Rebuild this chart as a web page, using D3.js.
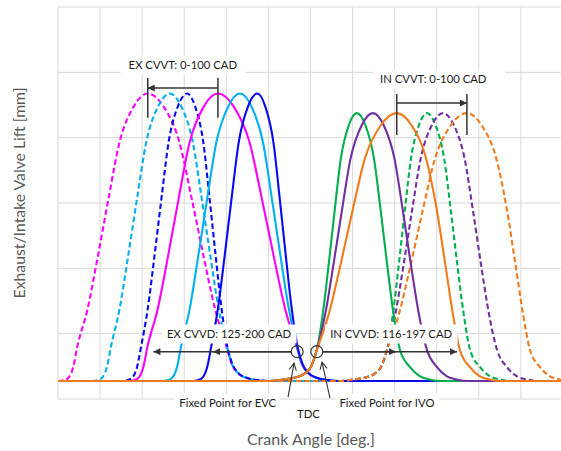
<!DOCTYPE html>
<html><head><meta charset="utf-8">
<script src="https://cdn.jsdelivr.net/npm/d3@7"></script>
<style>
body{margin:0;background:#fff;}
svg{display:block;font-family:Lato,"Open Sans",sans-serif;}
</style>
</head><body>
<svg id="chart" width="561" height="451"></svg>
<script>
// ---------- grid (crank angle in deg, lift in mm) ----------
const xGrid = [0,60,120,180,240,300,360,420,480,540,600,660,720];
const yGrid = [-0.55,1.45,3.45,5.45,7.45,9.45,11.45];

// ---------- exhaust curves ----------
const exLift = [0,0,0.03,0.13,0.45,1.0,2.2,3.87,5.63,7.3,8.4,8.8,8.4,7.3,5.63,3.87,2.2,1.0,0.5,0.25,0.09,0.03,0,0];
const exMagentaSolidCAD = [0,101,109,116,122,127,142.1,157.3,172.4,187.6,207.8,228,250.6,273.2,290.2,307.1,324,341,348,356,369,383,399,720];
const exCyanSolidCAD    = [0,149,157,164,170,175,187.7,200.3,213,225.7,242.6,259.5,275.9,292.3,304.6,316.9,329.2,341.5,348.5,356.5,369.5,383.5,399.5,720];
const exBlueSolidCAD    = [0,192,200,207,213,218,227.9,237.8,247.7,257.6,270.8,284,295.6,307.2,315.9,324.6,333.3,342,349,357,370,384,400,720];
const exMagentaDashCAD  = [0,1,9,16,22,27,42.1,57.3,72.4,87.6,107.8,128,150.6,173.2,190.2,207.1,224,241,248,256,269,283,299,720];
const exCyanDashCAD     = [0,49,57,64,70,75,87.7,100.3,113,125.7,142.6,159.5,175.9,192.3,204.6,216.9,229.2,241.5,248.5,256.5,269.5,283.5,299.5,720];
const exBlueDashCAD     = [0,92,100,107,113,118,127.9,137.8,147.7,157.6,170.8,184,195.6,207.2,215.9,224.6,233.3,242,249,257,270,284,300,720];

// ---------- intake curves ----------
const inLift = [0,0,0.04,0.1,0.22,0.45,0.95,2.05,3.6,5.25,6.8,7.83,8.2,7.83,6.8,5.25,3.6,2.05,0.95,0.43,0.15,0.05,0,0];
const inGreenSolidCAD  = [0,299,319,337,351,361,369,377.5,386.1,394.6,403.2,414.6,426,438.3,450.6,459.9,469.1,478.4,487.6,501.6,515.6,529.6,547.6,720];
const inPurpleSolidCAD = [0,299,319,337,351,361,369,381,393,405,417,433,449,464.4,479.8,491.4,502.9,514.5,526,540,554,568,586,720];
const inOrangeSolidCAD = [0,299,319,337,351,361,369,386.1,403.2,420.3,437.4,460.2,483,504,525,540,552,563,573,587,601,615,633,720];
const inGreenDashCAD   = [0,399,419,437,451,461,469,477.5,486.1,494.6,503.2,514.6,526,538.3,550.6,559.9,569.1,578.4,587.6,601.6,615.6,629.6,647.6,720];
const inPurpleDashCAD  = [0,399,419,437,451,461,469,481,493,505,517,533,549,564.4,579.8,591.4,602.9,614.5,626,640,654,668,686,720];
const inOrangeDashCAD  = [0,399,419,437,451,461,469,486.1,503.2,520.3,537.4,560.2,583,604,625,640,652,663,673,687,701,715,720];
const inOrangeDashLift = [0,0,0.04,0.1,0.22,0.45,0.95,2.05,3.6,5.25,6.8,7.83,8.2,7.83,6.8,5.25,3.6,2.05,0.95,0.43,0.15,0.05,0.02];

// ---------- annotation values ----------
const evcPoint = [341, 0.9];
const ivoPoint = [369, 0.9];
const exCvvtArrow = {from:228, to:128, y:8.97, tickTop:9.28, tickBottom:8.06};
const inCvvtArrow = {from:483, to:583, y:8.51, tickTop:8.79, tickBottom:7.53};
const exCvvdHeads = [221, 136];
const inCvvdHeads = [482, 569];
const labels = [
  {text:"EX CVVT: 0-100 CAD", x:178, y:9.68, padL:8, padR:8},
  {text:"IN CVVT: 0-100 CAD", x:535, y:9.25, padL:7, padR:18},
  {text:"EX CVVD: 125-200 CAD", x:244, y:1.44, padL:5, padR:5},
  {text:"IN CVVD: 116-197 CAD", x:475, y:1.44, padL:5, padR:5},
  {text:"Fixed Point for EVC", x:242, y:-0.67, padL:5, padR:3},
  {text:"Fixed Point for IVO", x:469, y:-0.67, padL:3, padR:5},
  {text:"TDC", x:357, y:-0.98, padL:3, padR:3}
];
const pointers = [
  {from:[328,-0.49], to:[336.5,0.55]},
  {from:[387.8,-0.52], to:[376.4,0.58]}
];

// ---------- scales ----------
const svg = d3.select("#chart");
const x = d3.scaleLinear().domain([0,720]).range([58,563]);
const y = d3.scaleLinear().domain([-0.55,11.45]).range([399,7]);

const defs = svg.append("defs");
defs.append("clipPath").attr("id","plotclip").append("rect")
  .attr("x",x(0)).attr("y",y(11.45)).attr("width",x(720)-x(0)).attr("height",y(-0.55)-y(11.45));
defs.append("marker").attr("id","head").attr("viewBox","0 0 10 10")
  .attr("refX",10).attr("refY",5).attr("markerWidth",8).attr("markerHeight",7)
  .attr("markerUnits","userSpaceOnUse").attr("orient","auto")
  .append("path").attr("d","M0,0L10,5L0,10z").attr("fill","#333");
defs.append("marker").attr("id","vhead").attr("viewBox","0 0 10 10")
  .attr("refX",9).attr("refY",5).attr("markerWidth",9).attr("markerHeight",9)
  .attr("markerUnits","userSpaceOnUse").attr("orient","auto")
  .append("path").attr("d","M1,1L9,5L1,9").attr("fill","none").attr("stroke","#333").attr("stroke-width",1.2);

// gridlines
const grid = svg.append("g").attr("stroke","#d9d9d9").attr("stroke-width",1);
grid.selectAll("line.v").data(xGrid).join("line")
  .attr("x1",d=>x(d)).attr("x2",d=>x(d)).attr("y1",y(11.45)).attr("y2",y(-0.55));
grid.selectAll("line.h").data(yGrid).join("line")
  .attr("x1",x(0)).attr("x2",x(720)).attr("y1",d=>y(d)).attr("y2",d=>y(d));

// curves
const series = [
  {a:exMagentaDashCAD, l:exLift, c:"#ff00ff", dash:true},
  {a:exCyanDashCAD,    l:exLift, c:"#00b0f0", dash:true},
  {a:exBlueDashCAD,    l:exLift, c:"#0a0aef", dash:true},
  {a:exMagentaSolidCAD,l:exLift, c:"#ff00ff", dash:false},
  {a:exCyanSolidCAD,   l:exLift, c:"#00b0f0", dash:false},
  {a:exBlueSolidCAD,   l:exLift, c:"#0a0aef", dash:false},
  {a:inGreenDashCAD,   l:inLift, c:"#00b050", dash:true},
  {a:inPurpleDashCAD,  l:inLift, c:"#7030a0", dash:true},
  {a:inOrangeDashCAD,  l:inOrangeDashLift, c:"#f07b1d", dash:true},
  {a:inGreenSolidCAD,  l:inLift, c:"#00b050", dash:false},
  {a:inPurpleSolidCAD, l:inLift, c:"#7030a0", dash:false},
  {a:inOrangeSolidCAD, l:inLift, c:"#f07b1d", dash:false}
];
const line = d3.line().x(d=>x(d[0])).y(d=>y(d[1])).curve(d3.curveMonotoneX);
const cg = svg.append("g").attr("clip-path","url(#plotclip)");
series.forEach(s=>{
  cg.append("path").attr("d", line(s.a.map((v,i)=>[v,s.l[i]])))
    .attr("fill","none").attr("stroke",s.c).attr("stroke-width",2.1)
    .attr("stroke-dasharray", s.dash ? "5.5,3" : null);
});

// label boxes + text
const lg = svg.append("g");
labels.forEach(L=>{
  const t = lg.append("text").attr("x",x(L.x)).attr("y",y(L.y))
    .attr("text-anchor","middle").attr("dominant-baseline","central")
    .attr("font-size",11.3).attr("fill","#1a1a1a").text(L.text);
  const b = t.node().getBBox();
  lg.insert("rect","text").attr("x",b.x-L.padL).attr("y",b.y-3)
    .attr("width",b.width+L.padL+L.padR).attr("height",b.height+6).attr("fill","#fff");
});

// arrows
const ag = svg.append("g").attr("stroke","#333").attr("stroke-width",1.5).attr("fill","none");
[exCvvtArrow, inCvvtArrow].forEach(A=>{
  ag.append("line").attr("x1",x(A.from)).attr("x2",x(A.to)).attr("y1",y(A.y)).attr("y2",y(A.y)).attr("marker-end","url(#head)");
  [A.from,A.to].forEach(v=>ag.append("line").attr("x1",x(v)).attr("x2",x(v)).attr("y1",y(A.tickTop)).attr("y2",y(A.tickBottom)));
});
exCvvdHeads.forEach(h=>ag.append("line").attr("x1",x(evcPoint[0])-6).attr("x2",x(h))
  .attr("y1",y(evcPoint[1])).attr("y2",y(evcPoint[1])).attr("marker-end","url(#head)"));
inCvvdHeads.forEach(h=>ag.append("line").attr("x1",x(ivoPoint[0])+6).attr("x2",x(h))
  .attr("y1",y(ivoPoint[1])).attr("y2",y(ivoPoint[1])).attr("marker-end","url(#head)"));
[evcPoint, ivoPoint].forEach(p=>svg.append("circle").attr("cx",x(p[0])).attr("cy",y(p[1])).attr("r",6)
  .attr("fill","none").attr("stroke","#333").attr("stroke-width",1.2));
pointers.forEach(P=>svg.append("line").attr("x1",x(P.from[0])).attr("y1",y(P.from[1]))
  .attr("x2",x(P.to[0])).attr("y2",y(P.to[1])).attr("stroke","#333").attr("stroke-width",1.1).attr("marker-end","url(#vhead)"));

// axis titles
svg.append("text").attr("x",311).attr("y",438).attr("text-anchor","middle").attr("dominant-baseline","central")
  .attr("font-size",16).attr("fill","#595959").text("Crank Angle [deg.]");
svg.append("text").attr("transform","translate(18,193) rotate(-90)").attr("text-anchor","middle")
  .attr("dominant-baseline","central").attr("font-size",15.8).attr("fill","#595959").text("Exhaust/Intake Valve Lift [mm]");
</script>
</body></html>
